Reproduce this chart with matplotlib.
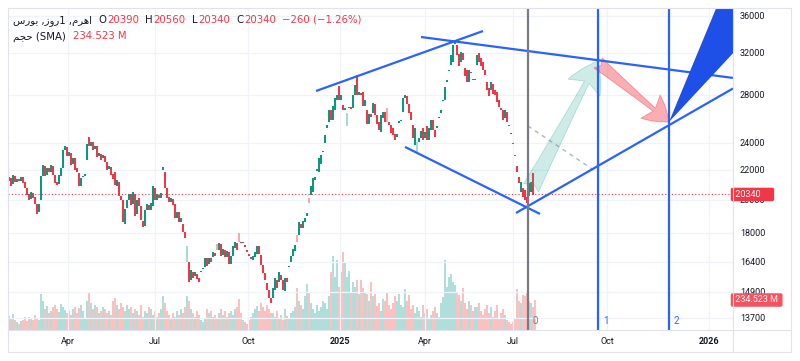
import matplotlib
matplotlib.use('Agg')
import matplotlib.pyplot as plt
import matplotlib.transforms as mtransforms
from matplotlib.offsetbox import TextArea, HPacker, VPacker, AnchoredOffsetbox
from matplotlib.patches import Polygon
from matplotlib.lines import Line2D
import numpy as np

plt.rcParams['font.family'] = ['Roboto', 'DejaVu Sans']

# daily candles (price)
opens = [
    21230, 21440, 21040, 21580, 21170, 21370, 21230, 21510, 21170, 20770,
    20370, 20050, 20440, 20180, 19730, 19230, 19980, 21580, 22280, 21650,
    22140, 21860, 22280, 21650, 21170, 21040, 21580, 22140, 23450, 23680,
    23010, 23230, 22420, 22860, 22140, 21790, 20900, 21510, 21580, 22710,
    24440, 23750, 24060, 23530, 23750, 23010, 23150, 22860, 23010, 22570,
    22070, 22210, 21720, 21860, 20900, 21170, 20240, 19980, 18510, 19480,
    19980, 20370, 19730, 20370, 19110, 20110, 19610, 18690, 18390, 19350,
    19670, 19350, 19610, 20770, 19980, 20310, 20110, 22000, 21860, 20770,
    20180, 19860, 20050, 19730, 18870, 19230, 18630, 18510, 18040, 16390,
    16390, 15470, 15870, 15670, 15770, 15570, 15870, 16020, 16130, 16600,
    16280, 16600, 16650, 16870, 17360, 17030, 17360, 16760, 17030, 16650,
    16920, 16280, 16710, 17140, 17410, 17980, 17470, 17410, 17300, 17030,
    16810, 16650, 16490, 16650, 16810, 17250, 16760, 16230, 15820, 15330,
    14990, 14610, 14610, 14990, 15470, 15370, 15720, 15470, 14940, 15570,
    16130, 16390, 16710, 16980, 17870, 17870, 18510, 18270, 18630, 18990,
    20110, 20310, 20500, 21300, 21930, 21860, 22420, 23300, 23980, 25160,
    25650, 26650, 25810, 26650, 27520, 28780, 27520, 27080, 26650, 25320,
    26820, 26910, 26820, 27960, 29810, 27960, 28140, 28230, 26990, 26650,
    25480, 26310, 26400, 27170, 26230, 25650, 24840, 25980, 26480, 26820,
    25650, 25400, 25160, 24680, 24440, 25570, 25730, 26480, 27700, 27870,
    27170, 26480, 25400, 23830, 23230, 24060, 24370, 25160, 24370, 25320,
    24210, 25000, 25810, 25000, 25160, 25980, 26400, 27430, 27520, 29150,
    30190, 30780, 31070, 32910, 32810, 31880, 31070, 31990, 30490, 30290,
    29150, 30100, 29430, 29340, 30780, 31990, 31480, 31070, 30290, 29150,
    28590, 28410, 28960, 28410, 28230, 27520, 26820, 26650, 25980, 26480,
    25400, 24760, 23980, 23080, 22280, 21510, 20500, 20770, 20630, 20180,
    20240, 20500, 21790, 20390,
]
closes = [
    21510, 20900, 21650, 21170, 21370, 21230, 21510, 21100, 20770, 20310,
    19980, 20500, 20110, 19730, 19110, 19730, 21580, 22350, 21580, 22140,
    21860, 22350, 21650, 21100, 20970, 21650, 22140, 23450, 23750, 23010,
    23300, 22350, 22860, 22000, 21860, 20900, 21440, 21580, 21720, 23910,
    23750, 24060, 23450, 23750, 22930, 23230, 22710, 23080, 22570, 22000,
    22280, 21650, 21370, 20970, 21300, 20240, 19980, 18630, 19410, 19980,
    20370, 19670, 20500, 18990, 19980, 19610, 18750, 18330, 19350, 19730,
    19350, 19790, 20900, 19980, 20370, 20110, 20440, 22210, 20770, 20110,
    19860, 20110, 19670, 18870, 19230, 18630, 18870, 18040, 17700, 17250,
    15370, 15970, 15570, 15870, 15520, 15370, 15920, 16070, 16600, 16180,
    16600, 16390, 16920, 16710, 17030, 17410, 16710, 17080, 16650, 16980,
    16280, 16710, 17250, 17470, 17030, 17470, 17410, 17470, 17190, 16920,
    16710, 16540, 16710, 16920, 17250, 16810, 16230, 15820, 15470, 14990,
    14610, 14370, 15090, 15570, 15090, 15870, 15470, 14990, 15570, 15370,
    16180, 16710, 17080, 17300, 17470, 18630, 18270, 18690, 18870, 19170,
    19790, 20900, 21440, 21510, 22070, 22860, 23080, 23380, 24600, 25400,
    26650, 25810, 26990, 27700, 27960, 27520, 27960, 26650, 26820, 26400,
    26910, 26740, 27960, 28870, 27960, 28230, 27960, 26990, 27520, 25480,
    26310, 26060, 27260, 26230, 25480, 25000, 26230, 26480, 25650, 25650,
    25400, 24760, 24600, 24210, 24680, 25730, 25810, 27700, 27960, 27170,
    26400, 25810, 24370, 25160, 24060, 24370, 24920, 24210, 24840, 24210,
    25160, 25810, 25000, 24440, 25320, 26060, 26650, 27520, 28680, 29340,
    30290, 31780, 32810, 33230, 31780, 30680, 32090, 31270, 29720, 29150,
    30290, 30000, 29340, 29430, 31780, 31070, 30680, 30290, 29810, 28410,
    27870, 29150, 28050, 27960, 27340, 26910, 26650, 25810, 26650, 25650,
    25320, 24680, 23910, 23010, 21860, 21100, 21170, 20180, 19980, 19790,
    21100, 21170, 20310, 20340,
]
# volume in millions
volumes = [
    112, 90, 128, 75, 60, 45, 68, 82, 98, 68, 105, 90, 75, 120, 90, 82,
    278, 225, 165, 188, 135, 150, 180, 195, 165, 142, 202, 180, 158, 135, 150, 120,
    165, 180, 135, 172, 195, 150, 90,
    225, 300, 210, 165, 195, 180, 135, 150, 180, 165, 135, 150, 120, 225, 248, 195,
    165, 210, 180, 150, 195, 165,
    180, 135, 165, 150, 120, 195, 105, 150, 135, 180, 165, 120, 150, 105, 135, 165,
    262, 210, 150, 120, 90, 135, 105, 150, 120, 165, 135, 180,
    262, 225, 165, 135, 105, 150, 120, 75, 60, 90, 165, 135, 150, 105, 120, 90,
    135, 165, 120, 150, 105, 135, 150, 120, 165, 180, 240, 135, 75, 60, 45, 75,
    105, 135, 165, 188, 150, 210, 180, 150, 195, 165, 135,
    135, 105, 150, 90, 120, 75, 165, 112, 90, 135, 150, 180, 330, 225, 195, 165,
    262, 360, 300, 210, 165, 135, 195, 150, 180, 225, 210, 165, 262,
    450, 578, 412, 548, 338, 450, 608, 525, 412, 465, 300, 375, 338, 390, 285, 390,
    330, 300, 278, 225, 375, 262, 285, 188, 210, 150, 240, 225, 300, 195, 165, 210,
    262, 225, 285, 195, 180, 322, 225, 270,
    165, 195, 135, 180, 150, 105, 195, 135, 165, 90, 120, 150, 180, 135, 105, 210,
    255, 548, 338, 412, 435, 375, 352, 300, 270, 225, 330, 210, 165, 225, 195, 150, 180,
    180, 210, 150, 120, 165, 195, 135, 180, 105, 150, 195, 90, 135, 165, 120, 75,
    60, 45, 60, 90, 322, 225, 210, 270, 262, 300, 225, 210, 180, 234.523,
]

tick_pos = [29.5, 73, 119.5, 165.5, 208, 252, 299, 350]
tick_labels = ['Apr', 'Jul', 'Oct', '2025', 'Apr', 'Jul', 'Oct', '2026']
price_ticks = [13700, 14900, 16400, 18000, 20000, 22000, 24000, 28000, 32000, 36000]
last_price = 20340
last_volume = 234.523

# drawings: (bar, price) anchors
trend_lines = [
    ((153.5, 28320), (237, 34310)),
    ((206, 33660), (362, 29530)),
    ((198, 23680), (265.5, 19110)),
    ((253.5, 19170), (362, 28550)),
]
cycle_lines = [(259.5, '0'), (294.5, '1'), (330, '2')]
dashed_line = ((259.5, 25320), (294.5, 21790))
green_arrow = ((261, 20770), (294.5, 31170))
red_arrow = ((294.5, 30980), (330, 25650))
blue_wedge = [(330, 25650), (361.5, 41710), (390.5, 41710), (390.5, 38870)]

GREEN = '#089981'
RED = '#f23645'
LGREEN = '#a3dcd2'
LRED = '#f8a9b0'
BLUE = '#2962ff'
GRID = '#f0f3fa'
TXT = '#131722'

W, H = 800, 361
fig = plt.figure(figsize=(W / 100, H / 100), dpi=100)
rect = [8 / W, 1 - 330 / H, (733 - 8) / W, (330 - 8) / H]
axv = fig.add_axes(rect, zorder=0)
ax = fig.add_axes(rect, zorder=1)
ax.patch.set_visible(False)

n = len(closes)
x = np.arange(n)
o = np.array(opens, dtype=float)
c = np.array(closes, dtype=float)
prev = np.concatenate([[o[0]], c[:-1]])
up = c >= o
strong = (c >= prev) == up
cols = [(GREEN if s else LGREEN) if u else (RED if s else LRED) for u, s in zip(up, strong)]

ax.set_yscale('log')
ax.bar(x, c - o, bottom=o, width=0.68, color=cols, linewidth=0, zorder=3)
ax.set_xlim(-0.5, 362)
ax.set_ylim(13183, 36933)

vcols = ['#26a69a' if u else '#ef5350' for u in up]
axv.bar(x, volumes, width=0.68, color=vcols, alpha=0.36, linewidth=0)
axv.set_xlim(-0.5, 362)
axv.set_ylim(0, 2517)
axv.axis('off')

# grid
for p in price_ticks:
    ax.axhline(p, color=GRID, lw=0.9, zorder=0)
for t in tick_pos:
    ax.axvline(t, color=GRID, lw=0.9, zorder=0)

ax.yaxis.tick_right()
ax.yaxis.set_minor_locator(matplotlib.ticker.NullLocator())
ax.set_yticks(price_ticks, [str(p) for p in price_ticks])
ax.set_xticks(tick_pos, tick_labels)
ax.tick_params(axis='both', length=0, labelsize=6.5, colors=TXT)
ax.tick_params(axis='y', pad=5)
ax.tick_params(axis='x', pad=5)
for lab in ax.get_xticklabels():
    if lab.get_text().startswith('20'):
        lab.set_fontweight('bold')
for s in ax.spines.values():
    s.set_visible(False)

# last price line
ax.axhline(last_price, color=RED, lw=0.8, ls=(0, (1, 2)), zorder=2)

# drawings
for (x0, y0), (x1, y1) in trend_lines:
    ax.plot([x0, x1], [y0, y1], color=BLUE, lw=1.6, solid_capstyle='butt', zorder=5)
for xv, lbl in cycle_lines:
    colr = '#787b86' if lbl == '0' else BLUE
    ax.axvline(xv, color=colr, lw=1.6, zorder=5)
    ax.text(xv + 2.5, 0.028, lbl, transform=ax.get_xaxis_transform(), color=colr,
            fontsize=7, va='center', ha='left', zorder=6)
ax.plot([dashed_line[0][0], dashed_line[1][0]], [dashed_line[0][1], dashed_line[1][1]],
        color='#b2b5be', lw=1, ls=(0, (3, 3)), zorder=4)

ms = 0.72  # units of arrowstyle in pixels
ax.annotate('', xy=green_arrow[1], xytext=green_arrow[0],
            arrowprops=dict(arrowstyle='fancy,head_length=30,head_width=36,tail_width=17',
                            mutation_scale=ms, fc=(0.15, 0.65, 0.58, 0.22),
                            ec=(0.15, 0.65, 0.58, 0.3), lw=0.6, shrinkA=0, shrinkB=0),
            zorder=4)
ax.annotate('', xy=red_arrow[1], xytext=red_arrow[0],
            arrowprops=dict(arrowstyle='fancy,head_length=24,head_width=30,tail_width=13',
                            mutation_scale=ms, fc=(0.95, 0.21, 0.27, 0.4),
                            ec=(0.95, 0.21, 0.27, 0.45), lw=0.6, shrinkA=0, shrinkB=0),
            zorder=4)
ax.add_patch(Polygon(blue_wedge, closed=True, fc='#1e4fe6', ec='none', zorder=5))

# price tags on the right scale
ax.text(1.0, last_price, ' ' + str(last_price) + '     ', transform=ax.get_yaxis_transform(),
        color='white', fontsize=6.5, va='center', ha='left', clip_on=False, zorder=10,
        bbox=dict(boxstyle='round,pad=0.25,rounding_size=0.2', fc=RED, ec='none'))
vtrans = mtransforms.blended_transform_factory(ax.transAxes, axv.transData)
ax.text(1.0, last_volume, ' 234.523 M ', transform=vtrans,
        color='white', fontsize=6.5, va='center', ha='left', clip_on=False, zorder=10,
        bbox=dict(boxstyle='round,pad=0.25,rounding_size=0.2', fc='#f7525f', ec='none'))

# legend (arabic in visual order, presentation forms)
w_bours = '\uFEB1\uFEAD\uFEEE\uFE91'
w_rooz = '\uFEAF\uFEED\uFEAD'
w_ahrom = '\uFEE1\uFEAE\uFEEB\uFE8D'
w_hajm = '\uFEE2\uFEA0\uFEA3'
fs = 7.3
def ta(s, col):
    return TextArea(s, textprops=dict(color=col, fontsize=fs, family=['DejaVu Sans']))
def grp(k, v):
    return HPacker(children=[ta(k, TXT), ta(v, RED)], sep=0.5, align='baseline')
line1 = HPacker(children=[
    ta(w_bours + ' ,' + w_rooz + '1 ,' + w_ahrom, TXT),
    grp('O', '20390'), grp('H', '20560'), grp('L', '20340'), grp('C', '20340'),
    ta('\u2212260 (\u22121.26%)', RED)], sep=4.5, align='baseline')
line2 = HPacker(children=[ta(w_hajm + ' (SMA)', TXT), ta('234.523 M', RED)],
                sep=5, align='baseline')
box = VPacker(children=[line1, line2], sep=4, align='left')
anch = AnchoredOffsetbox(loc='upper left', child=box, pad=0, borderpad=0, frameon=False,
                         bbox_to_anchor=(13 / W, 1 - 15 / H), bbox_transform=fig.transFigure)
fig.add_artist(anch)

# widget frame
fc = '#e0e3eb'
for xs, ys in [([8, 791, 791, 8, 8], [8, 8, 352, 352, 8]), ([733, 733], [8, 352]), ([8, 791], [330, 330])]:
    fig.add_artist(Line2D([v / W for v in xs], [1 - v / H for v in ys], color=fc, lw=0.8,
                          transform=fig.transFigure))

fig.savefig('out.png', dpi=100)
